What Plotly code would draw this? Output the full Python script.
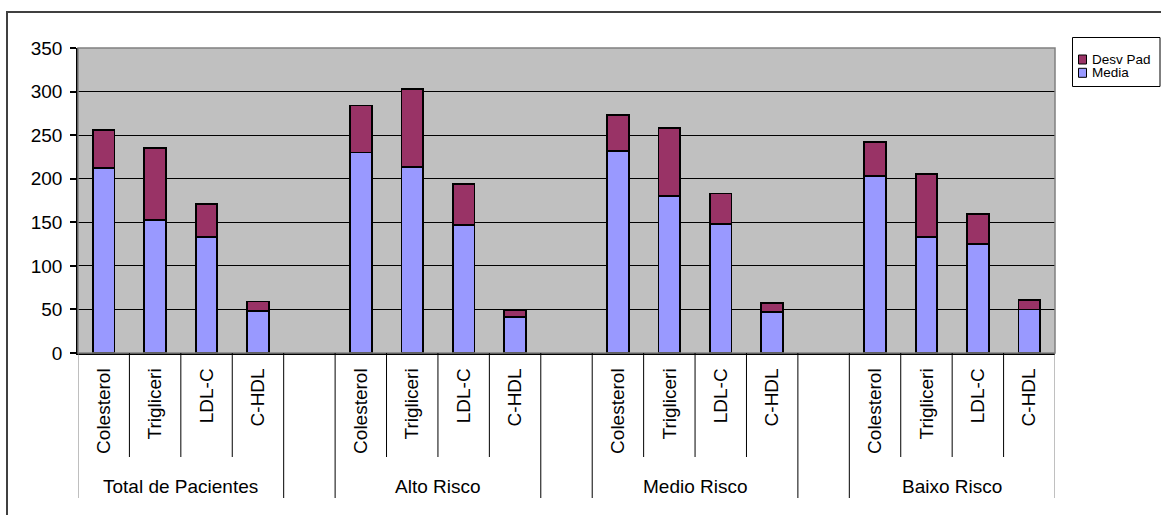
import plotly.graph_objects as go

# ---- data ----
groups = ["Total de Pacientes", "Alto Risco", "Medio Risco", "Baixo Risco"]
categories = ["Colesterol", "Trigliceri", "LDL-C", "C-HDL"]
series_names = ["Media", "Desv Pad"]
media = [212, 153, 133, 48, 230, 213, 147, 41, 232, 180, 148, 47, 203, 133, 125, 50]
desv_pad = [44, 82, 38, 11, 54, 90, 47, 8, 41, 78, 35, 10, 39, 72, 34.5, 10.5]
y_ticks = [0, 50, 100, 150, 200, 250, 300, 350]

# ---- geometry ----
W, H = 1161, 515
ML, MR, MT, MB = 78, 106, 48, 162
PW, PH = W - ML - MR, H - MT - MB
SLOTS_PER_GROUP = len(categories) + 1
n_slots = len(groups) * SLOTS_PER_GROUP - 1


def px(xp):
    return (xp - ML) / PW


def py(yp):
    return (H - MB - yp) / PH


xs, labels = [], []
for gi, g in enumerate(groups):
    for bi, c in enumerate(categories):
        xs.append(gi * SLOTS_PER_GROUP + bi)
        labels.append(c)

FONT = "Liberation Sans, Arial, sans-serif"
colors = {"Media": "#9999FF", "Desv Pad": "#993366"}

fig = go.Figure()
for name, vals in zip(series_names, [media, desv_pad]):
    fig.add_trace(go.Bar(
        x=xs, y=vals, name=name, width=0.42,
        marker=dict(color=colors[name], line=dict(color="black", width=1.8)),
        showlegend=False,
    ))

shapes = []
# plot-area border (gray)
shapes.append(dict(type="rect", xref="paper", yref="paper", x0=0, x1=1, y0=0, y1=1,
                   line=dict(color="#808080", width=1.5), layer="above"))
# category divider lines
for s in range(n_slots + 1):
    b = s - 0.5
    in_group = (s % SLOTS_PER_GROUP) not in (0, len(categories)) and s != n_slots
    y_end = py(457) if in_group else py(498)
    shapes.append(dict(type="line", xref="x", yref="paper", x0=b, x1=b, y0=0, y1=y_end,
                       line=dict(color="#000000" if s not in (0, n_slots) else "#808080", width=1)))
# chart outer border
shapes.append(dict(type="rect", xref="paper", yref="paper", x0=px(7), x1=px(1163),
                   y0=py(518), y1=py(12), line=dict(color="#404040", width=2)))
# legend box
shapes.append(dict(type="rect", xref="paper", yref="paper", x0=px(1072.5), x1=px(1160),
                   y0=py(86.5), y1=py(37.5), line=dict(color="black", width=1),
                   fillcolor="white"))
annotations = []
leg_items = [("Desv Pad", 59.5), ("Media", 72.8)]
for name, yc in leg_items:
    shapes.append(dict(type="rect", xref="paper", yref="paper", x0=px(1078.5), x1=px(1086.5),
                       y0=py(yc + 4.5), y1=py(yc - 4.5), fillcolor=colors[name],
                       line=dict(color="black", width=1)))
    annotations.append(dict(xref="paper", yref="paper", x=px(1089.5), y=py(yc), text=name,
                            showarrow=False, xanchor="left", yanchor="middle",
                            font=dict(family=FONT, size=13.5, color="black")))
# group labels
for gi, g in enumerate(groups):
    annotations.append(dict(xref="x", yref="paper", x=gi * SLOTS_PER_GROUP + (len(categories) - 1) / 2,
                            y=py(487), text=g, showarrow=False, xanchor="center", yanchor="middle",
                            font=dict(family=FONT, size=19, color="black")))

fig.update_layout(
    width=W, height=H,
    margin=dict(l=ML, r=MR, t=MT, b=MB, pad=0),
    barmode="stack",
    plot_bgcolor="#C0C0C0",
    paper_bgcolor="white",
    font=dict(family=FONT, size=19, color="black"),
    shapes=shapes,
    annotations=annotations,
    showlegend=False,
)
fig.update_xaxes(
    range=[-0.5, n_slots - 0.5],
    tickmode="array", tickvals=xs, ticktext=labels, tickangle=-90,
    ticks="", showgrid=False, zeroline=False,
    showline=True, linecolor="black", linewidth=1.5,
    ticklabelstandoff=6,
    tickfont=dict(family=FONT, size=19, color="black"),
)
fig.update_yaxes(
    range=[0, 350], tickmode="array", tickvals=y_ticks,
    ticks="outside", ticklen=6, tickcolor="black", tickwidth=1.5,
    showline=True, linecolor="black", linewidth=1.5,
    showgrid=True, gridcolor="#000000", gridwidth=1, zeroline=False,
    ticklabelstandoff=4,
    tickfont=dict(family=FONT, size=19, color="black"),
)

fig.write_html("out.html")
